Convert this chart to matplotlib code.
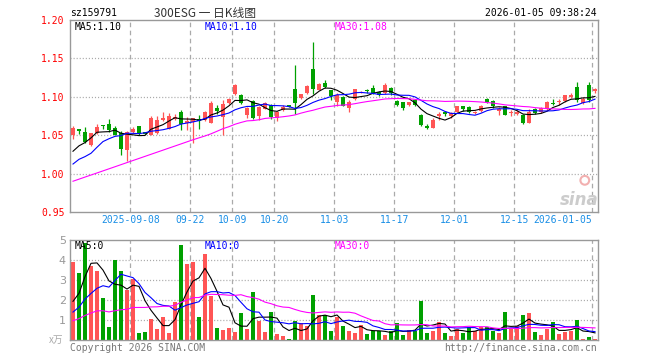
import matplotlib
matplotlib.use('Agg')
import matplotlib.pyplot as plt
import numpy as np
import pandas as pd

plt.rcParams['lines.scale_dashes'] = False

# ---------------- data ----------------
holidays = ['2025-10-01', '2025-10-02', '2025-10-03', '2025-10-06', '2025-10-07',
            '2025-10-08', '2026-01-01', '2026-01-02']
dates = [d.strftime('%Y-%m-%d') for d in
         pd.bdate_range('2025-08-25', '2026-01-05', freq='C', holidays=holidays)]

open_ = [1.0509, 1.0583, 1.0544, 1.0377, 1.0526, 1.0635, 1.0649, 1.0596, 1.0535, 1.0307,
         1.0544, 1.0614, 1.0543, 1.0509, 1.0535, 1.0702, 1.0587, 1.0710, 1.0798, 1.0658,
         1.0675, 1.0705, 1.0697, 1.0662, 1.0855, 1.0732, 1.0916, 1.1030, 1.1021, 1.0767,
         1.0951, 1.0750, 1.0846, 1.0899, 1.0723, 1.0829, 1.0899, 1.1100, 1.0978, 1.1048,
         1.1364, 1.1092, 1.1180, 1.1083, 1.0929, 1.1000, 1.0850, 1.0973, 1.1070, 1.1078,
         1.1114, 1.1061, 1.1043, 1.1114, 1.0947, 1.0929, 1.0894, 1.0956, 1.0763, 1.0614,
         1.0600, 1.0745, 1.0798, 1.0754, 1.0807, 1.0886, 1.0868, 1.0789, 1.0815, 1.0973,
         1.0947, 1.0815, 1.0877, 1.0789, 1.0780, 1.0763, 1.0665, 1.0842, 1.0798, 1.0842,
         1.0921, 1.0938, 1.0947, 1.1000, 1.1122, 1.0918, 1.1149, 1.1070]
high = [1.0614, 1.0587, 1.0605, 1.0535, 1.0649, 1.0635, 1.0710, 1.0614, 1.0552, 1.0552,
        1.0605, 1.0614, 1.0548, 1.0754, 1.0745, 1.0807, 1.0789, 1.0780, 1.0833, 1.0737,
        1.0725, 1.0763, 1.0812, 1.0943, 1.0890, 1.0960, 1.0978, 1.1162, 1.1030, 1.0864,
        1.0960, 1.0881, 1.0934, 1.0907, 1.0811, 1.0890, 1.0899, 1.1416, 1.1039, 1.1153,
        1.1714, 1.1180, 1.1215, 1.1092, 1.1043, 1.1008, 1.0956, 1.1105, 1.1078, 1.1105,
        1.1149, 1.1070, 1.1184, 1.1122, 1.0956, 1.0938, 1.0938, 1.0964, 1.0772, 1.0640,
        1.0728, 1.0798, 1.0815, 1.0798, 1.0886, 1.0886, 1.0877, 1.0815, 1.0894, 1.0982,
        1.0956, 1.0868, 1.0886, 1.0833, 1.0824, 1.0772, 1.0842, 1.0851, 1.0868, 1.0947,
        1.0973, 1.0973, 1.1026, 1.1052, 1.1193, 1.0991, 1.1193, 1.1114]
low = [1.0456, 1.0515, 1.0395, 1.0359, 1.0517, 1.0580, 1.0544, 1.0500, 1.0245, 1.0166,
       1.0535, 1.0509, 1.0510, 1.0500, 1.0517, 1.0684, 1.0579, 1.0702, 1.0570, 1.0570,
       1.0403, 1.0580, 1.0685, 1.0653, 1.0776, 1.0504, 1.0907, 1.1021, 1.0907, 1.0723,
       1.0714, 1.0697, 1.0837, 1.0706, 1.0688, 1.0820, 1.0864, 1.0780, 1.0969, 1.1039,
       1.1039, 1.1083, 1.1110, 1.0960, 1.0886, 1.0877, 1.0798, 1.0956, 1.1052, 1.1052,
       1.1035, 1.1008, 1.1035, 1.1026, 1.0877, 1.0833, 1.0877, 1.0877, 1.0622, 1.0578,
       1.0592, 1.0693, 1.0754, 1.0719, 1.0798, 1.0815, 1.0789, 1.0778, 1.0798, 1.0921,
       1.0859, 1.0763, 1.0758, 1.0754, 1.0763, 1.0640, 1.0656, 1.0780, 1.0789, 1.0833,
       1.0894, 1.0894, 1.0938, 1.0982, 1.0938, 1.0910, 1.0929, 1.1052]
close = [1.0596, 1.0552, 1.0412, 1.0526, 1.0605, 1.0620, 1.0570, 1.0509, 1.0324, 1.0544,
         1.0579, 1.0517, 1.0520, 1.0728, 1.0693, 1.0728, 1.0754, 1.0737, 1.0649, 1.0684,
         1.0718, 1.0690, 1.0802, 1.0925, 1.0811, 1.0907, 1.0969, 1.1153, 1.0916, 1.0855,
         1.0723, 1.0872, 1.0925, 1.0732, 1.0802, 1.0872, 1.0872, 1.0916, 1.1030, 1.1144,
         1.1100, 1.1171, 1.1127, 1.1013, 1.1017, 1.0886, 1.0938, 1.1096, 1.1078, 1.1074,
         1.1043, 1.1026, 1.1157, 1.1043, 1.0894, 1.0850, 1.0929, 1.0894, 1.0630, 1.0600,
         1.0695, 1.0780, 1.0780, 1.0789, 1.0877, 1.0842, 1.0807, 1.0800, 1.0886, 1.0938,
         1.0886, 1.0842, 1.0765, 1.0807, 1.0798, 1.0665, 1.0807, 1.0789, 1.0859, 1.0938,
         1.0912, 1.0947, 1.1017, 1.1026, 1.0964, 1.0975, 1.0956, 1.1105]
volume = [3.90, 3.37, 4.83, 3.70, 3.47, 2.10, 0.67, 4.00, 3.47, 2.50,
          3.07, 0.37, 0.42, 1.07, 0.57, 1.17, 0.37, 1.90, 4.77, 3.80,
          3.90, 1.17, 4.30, 2.20, 0.60, 0.50, 0.60, 0.40, 1.37, 0.57,
          2.40, 0.97, 0.40, 1.40, 0.30, 0.20, 0.07, 0.97, 0.83, 0.70,
          2.23, 1.23, 1.23, 0.43, 1.13, 0.70, 0.47, 0.37, 0.73, 0.30,
          0.47, 0.43, 0.23, 0.43, 0.83, 0.23, 0.50, 0.47, 1.97, 0.33,
          0.47, 0.90, 0.33, 0.20, 0.57, 0.33, 0.63, 0.47, 0.67, 0.63,
          0.47, 0.37, 1.40, 0.53, 0.70, 1.23, 1.37, 0.40, 0.27, 0.53,
          0.90, 0.30, 0.40, 0.47, 1.00, 0.07, 0.17, 0.07]

# history before the visible window (estimated from where the MA lines start)
prior_close = [0.974, 0.960, 0.972, 0.980, 0.981, 0.976, 0.970, 0.951, 0.973, 0.977,
               0.971, 0.971, 0.992, 0.988, 0.992, 0.994, 0.993, 0.984, 0.987, 0.991,
               0.994, 1.006, 1.009, 0.982, 0.988, 1.020, 1.020, 1.022, 1.024]
prior_volume = [0.15, 0.10, 0.10, 0.15, 2.00, 2.40, 2.20, 2.00, 1.80, 0.40,
                0.30, 0.40, 0.30, 0.40, 0.30, 0.40, 0.40, 0.30, 0.40, 0.40,
                0.90, 0.80, 0.90, 0.90, 0.80, 1.37, 0.67, 0.36, 3.37]

tick_dates = ['2025-09-08', '2025-09-22', '2025-10-09', '2025-10-20', '2025-11-03',
              '2025-11-17', '2025-12-01', '2025-12-15', '2026-01-05']
tick_labels = ['2025-09-08', '09-22', '10-09', '10-20', '11-03',
               '11-17', '12-01', '12-15', '2026-01-05']
price_ticks = [0.95, 1.00, 1.05, 1.10, 1.15, 1.20]
vol_ticks = [1, 2, 3, 4, 5]
ma_periods = [5, 10, 30]

# ---------------- styling ----------------
RED = '#ff5555'
GREEN = '#00a000'
MA_COLORS = ['#000000', '#0000ff', '#ff00ff']
GRID = '#aaaaaa'
FRAME = '#999999'
BLUE_TXT = '#1a8fe6'
MONO = 'DejaVu Sans Mono'
FS = 7

W, H = 660, 360
fig = plt.figure(figsize=(W / 100, H / 100), dpi=100)
L, R = 70, 598
ax = fig.add_axes([L / W, 1 - 212 / H, (R - L) / W, 192 / H])
axv = fig.add_axes([L / W, 1 - 340 / H, (R - L) / W, 100 / H])

o = np.array(open_); h = np.array(high); lo = np.array(low); c = np.array(close)
v = np.array(volume)
n = len(c)
x = np.arange(n)
up = c >= o
cols = np.where(up, RED, GREEN)

all_close = pd.Series(prior_close + close)
all_vol = pd.Series(prior_volume + volume)
k = len(prior_close)
ma_price = [all_close.rolling(p).mean().values[k:] for p in ma_periods]
ma_vol = [all_vol.rolling(p).mean().values[k:] for p in ma_periods]

grid_x = [dates.index(d) - 0.45 for d in tick_dates]

for a in (ax, axv):
    a.set_xlim(-0.5, n - 0.5)
    for s in a.spines.values():
        s.set_color(FRAME)
        s.set_linewidth(1.0)
    a.tick_params(length=0)
    for gx in grid_x:
        a.axvline(gx, color=GRID, lw=0.9, dashes=(3.3, 2.5), zorder=0)

# ---- price panel ----
ax.set_ylim(price_ticks[0], price_ticks[-1])
for yv in price_ticks[1:-1]:
    ax.axhline(yv, color=GRID, lw=0.9, dashes=(0.8, 1.4), zorder=0)
ax.vlines(x, lo, h, colors=cols, lw=0.9, zorder=2)
ax.bar(x, np.maximum(np.abs(c - o), 0.0012), bottom=np.minimum(o, c), width=0.8,
       color=cols, linewidth=0, zorder=3)
for m, col in zip(ma_price, MA_COLORS):
    ax.plot(x, m, color=col, lw=0.8, zorder=4)

ax.set_yticks(price_ticks)
ax.set_yticklabels(['%.2f' % t for t in price_ticks], color='#ff0000',
                   fontsize=FS, family=MONO)
ax.tick_params(axis='y', pad=4)
ax.set_xticks(grid_x)
ax.set_xticklabels(tick_labels, color=BLUE_TXT, fontsize=FS, family=MONO)
ax.tick_params(axis='x', pad=2)
ax.get_xticklabels()[-1].set_ha('right')

for i, (p, m, col) in enumerate(zip(ma_periods, ma_price, MA_COLORS)):
    fig.text((75 + 130 * i) / W, 1 - 27 / H, 'MA%d:%.2f' % (p, m[-1]), color=col,
             fontsize=FS, family=MONO, va='center', ha='left')

# sina watermark
ax.text(0.965, 0.06, 'sina', transform=ax.transAxes, fontsize=12, fontstyle='italic',
        fontweight='bold', color='#cccccc', ha='center', va='center', zorder=1)
ax.scatter([0.975], [0.165], transform=ax.transAxes, s=40, facecolors='none',
           edgecolors='#f2b0b0', linewidths=1.5, zorder=1)

# ---- volume panel ----
axv.set_ylim(0, vol_ticks[-1])
for yv in vol_ticks[:-1]:
    axv.axhline(yv, color=GRID, lw=0.9, dashes=(0.8, 1.4), zorder=0)
axv.bar(x, v, width=0.8, color=cols, linewidth=0, zorder=2)
for m, col in zip(ma_vol, MA_COLORS):
    axv.plot(x, m, color=col, lw=0.8, zorder=3)
axv.set_yticks(vol_ticks)
axv.set_yticklabels([str(t) for t in vol_ticks], color='#999999', fontsize=8)
axv.tick_params(axis='y', pad=3)
axv.set_xticks([])
axv.text(-0.012, 0.0, 'x万', transform=axv.transAxes, ha='right', va='center',
         color='#aaaaaa', fontsize=7, family=['Noto Sans CJK SC', 'DejaVu Sans'])
for i, (p, col) in enumerate(zip(ma_periods, MA_COLORS)):
    fig.text((75 + 130 * i) / W, 1 - 246 / H, 'MA%d:0' % p, color=col,
             fontsize=FS, family=MONO, va='center', ha='left')

# ---- header / footer ----
fig.text(70 / W, 1 - 13 / H, 'sz159791', fontsize=FS, family=MONO, color='#000000',
         va='center', ha='left')
fig.text(205 / W, 1 - 13 / H, '300ESG 一 日K线图', fontsize=8.5,
         family=['Noto Sans CJK SC', 'DejaVu Sans'], color='#333333', va='center', ha='center')
fig.text(597 / W, 1 - 13 / H, '2026-01-05 09:38:24', fontsize=FS, family=MONO,
         color='#000000', va='center', ha='right')
fig.text(70 / W, 1 - 348 / H, 'Copyright 2026 SINA.COM', fontsize=FS, family=MONO,
         color='#777777', va='center', ha='left')
fig.text(597 / W, 1 - 348 / H, 'http://finance.sina.com.cn', fontsize=FS, family=MONO,
         color='#777777', va='center', ha='right')

fig.savefig('out.png', dpi=100)
